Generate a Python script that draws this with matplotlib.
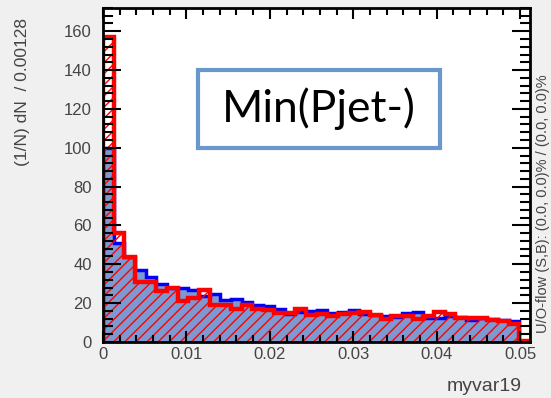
import matplotlib

matplotlib.use("Agg")
import matplotlib.pyplot as plt
from matplotlib.patches import Rectangle
from matplotlib.ticker import MultipleLocator
import numpy as np

# 40 bins of width 0.00128 over [0, 0.0512]
BIN_WIDTH = 0.00128
N_BINS = 40

signal = [100, 51, 43.5, 37, 33.5, 30, 28, 28, 26.5, 23.5,
          24.5, 21.5, 22, 20.5, 19, 18.5, 17, 14.5, 15.5, 16,
          16.5, 15, 15.5, 16.5, 14.5, 14, 13.5, 13, 15, 15.5,
          12.5, 12.5, 13.5, 13, 11.5, 12.5, 12, 11.5, 11, 0]
background = [157, 56, 43.5, 31, 31, 26, 28, 21, 22.5, 26.5,
              19, 19, 17, 19, 17, 16.5, 15, 15, 17, 14,
              14.5, 13.5, 14.5, 15, 15.5, 14, 12, 13.5, 13.5, 12,
              13.5, 15.5, 14.5, 12.5, 12.5, 12.5, 11.5, 10.5, 9, 0.5]

x_label = "myvar19"
y_label = "(1/N) dN  / 0.00128"
flow_label = "U/O-flow (S,B): (0.0, 0.0)% / (0.0, 0.0)%"
box_text = "Min(Pjet-)"

edges = np.arange(N_BINS + 1) * BIN_WIDTH

plt.rcParams["font.family"] = ["Liberation Sans", "DejaVu Sans"]
plt.rcParams["hatch.linewidth"] = 1.0

fig = plt.figure(figsize=(5.51, 3.98), dpi=100, facecolor="#f0f0f0")
ax = fig.add_axes([0.187, 0.141, 0.775, 0.839])
ax.set_facecolor("white")

ax.stairs(signal, edges, fill=True, facecolor="#7d99d1", edgecolor="#0000ff",
          linewidth=2.5)
ax.stairs(background, edges, fill=True, facecolor="none", edgecolor="#ff0000",
          hatch="///", linewidth=3.2)

ax.set_xlim(0, N_BINS * BIN_WIDTH)
ax.set_ylim(0, 172)

ax.xaxis.set_major_locator(MultipleLocator(0.01))
ax.xaxis.set_minor_locator(MultipleLocator(0.002))
ax.yaxis.set_major_locator(MultipleLocator(20))
ax.yaxis.set_minor_locator(MultipleLocator(4))
ax.xaxis.set_major_formatter(lambda v, pos: "0" if v == 0 else f"{v:g}")

ax.tick_params(which="both", direction="in", top=True, right=True,
               color="black", width=1.5, labelsize=12, labelcolor="#444444")
ax.tick_params(axis="y", which="major", length=13, pad=8)
ax.tick_params(axis="y", which="minor", length=7)
ax.tick_params(axis="x", which="major", length=8, pad=4)
ax.tick_params(axis="x", which="minor", length=5)
for spine in ax.spines.values():
    spine.set_linewidth(2)
    spine.set_color("black")

fig.text(0.04, 0.955, y_label, rotation=90, ha="center", va="top",
         fontsize=12.5, color="#444444")
fig.text(0.947, 0.028, x_label, ha="right", va="center",
         fontsize=14, color="#444444")
fig.text(0.985, 0.163, flow_label, rotation=90, ha="center", va="bottom",
         fontsize=10.5, color="#444444")

# label box drawn in figure coordinates
fig.patches.append(Rectangle((198 / 551, 1 - 148 / 398), 242 / 551, 78 / 398,
                             transform=fig.transFigure, facecolor="white",
                             edgecolor="#6a98cc", linewidth=3, zorder=5))
fig.text(319 / 551, 1 - 109 / 398, box_text, ha="center", va="center",
         fontsize=32, family=["Lato", "DejaVu Sans"], color="black", zorder=6)

fig.savefig("out.png", dpi=100, facecolor=fig.get_facecolor())
